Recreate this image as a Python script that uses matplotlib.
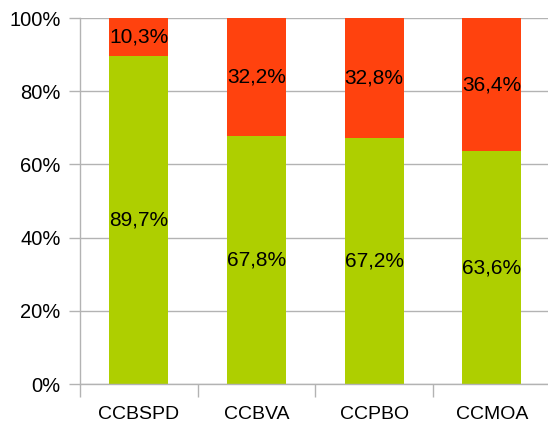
import matplotlib.pyplot as plt
from matplotlib.ticker import FixedLocator, PercentFormatter

categories = ["CCBSPD", "CCBVA", "CCPBO", "CCMOA"]
green_vals = [89.7, 67.8, 67.2, 63.6]
red_vals = [10.3, 32.2, 32.8, 36.4]

GREEN = "#aecf00"
RED = "#ff420e"
GRAY = "#b3b3b3"

plt.rcParams['font.family'] = ['Liberation Sans', 'DejaVu Sans']

fig = plt.figure(figsize=(5.48, 4.29), dpi=100)
ax = fig.add_axes([80 / 548, 45 / 429, 468 / 548, 366 / 429])

x = list(range(len(categories)))
ax.bar(x, green_vals, width=0.5, color=GREEN, zorder=2)
ax.bar(x, red_vals, width=0.5, bottom=green_vals, color=RED, zorder=2)

# labels in the middle of each segment
for i in x:
    ax.text(i, green_vals[i] / 2, f"{green_vals[i]:.1f}%".replace(".", ","),
            ha="center", va="center", fontsize=15, zorder=3)
    ax.text(i, green_vals[i] + red_vals[i] / 2, f"{red_vals[i]:.1f}%".replace(".", ","),
            ha="center", va="center", fontsize=15, zorder=3)

ax.set_xlim(-0.5, 3.477)
ax.set_ylim(0, 100)
ax.set_yticks(range(0, 101, 20))
ax.yaxis.set_major_formatter(PercentFormatter(decimals=0))
ax.grid(axis="y", color=GRAY, linewidth=1, zorder=0)

ax.set_xticks(x)
ax.set_xticklabels(categories)
ax.xaxis.set_minor_locator(FixedLocator([-0.5, 0.5, 1.5, 2.5]))
ax.tick_params(axis="x", which="major", length=0, pad=16, labelsize=14)
ax.tick_params(axis="x", which="minor", length=9.5, color=GRAY, width=1)
ax.tick_params(axis="y", length=8, color=GRAY, width=1, pad=6, labelsize=14.5)

for s in ["top", "right"]:
    ax.spines[s].set_visible(False)
for s in ["left", "bottom"]:
    ax.spines[s].set_color(GRAY)
    ax.spines[s].set_linewidth(1)
    ax.spines[s].set_zorder(4)

fig.savefig("out.png", dpi=100)
